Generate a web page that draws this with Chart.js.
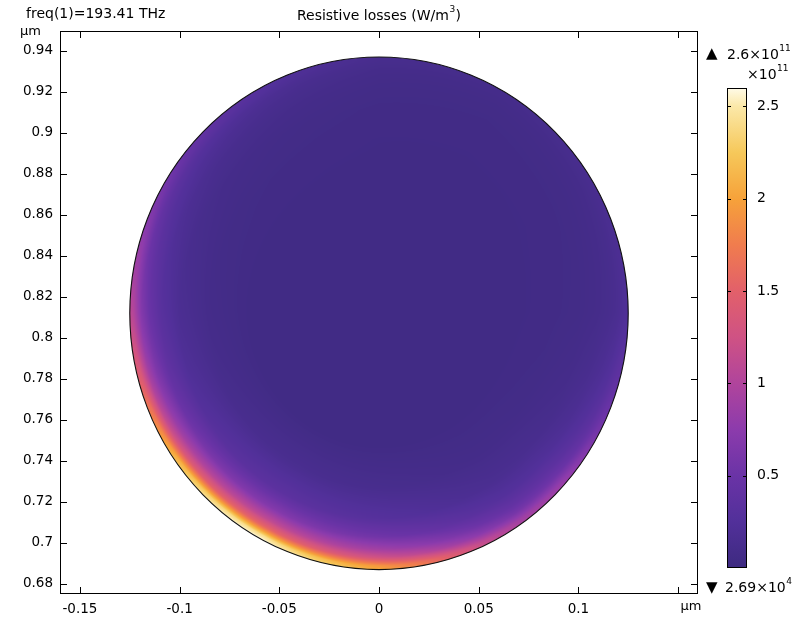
<!DOCTYPE html>
<html><head><meta charset="utf-8">
<script src="https://cdn.jsdelivr.net/npm/chart.js@4/dist/chart.umd.min.js"></script>
<style>
html,body{margin:0;padding:0;background:#fff;}
#wrap{position:relative;width:793px;height:618px;overflow:hidden;}
</style></head><body>
<div id="wrap">
<canvas id="main" width="793" height="618" style="position:absolute;left:0;top:0;"></canvas>
<canvas id="cbar" width="93" height="618" style="position:absolute;left:700px;top:0;"></canvas>
</div>
<script>
// ---- data ----
const xTicks = [-0.15, -0.1, -0.05, 0, 0.05, 0.1, 0.15];
const xTickLabels = ['-0.15', '-0.1', '-0.05', '0', '0.05', '0.1', ''];
const yTicks = [0.68, 0.7, 0.72, 0.74, 0.76, 0.78, 0.8, 0.82, 0.84, 0.86, 0.88, 0.9, 0.92, 0.94];
const yTickLabels = ['0.68', '0.7', '0.72', '0.74', '0.76', '0.78', '0.8', '0.82', '0.84', '0.86', '0.88', '0.9', '0.92', '0.94'];
const colorbarTicks = [0.5, 1, 1.5, 2, 2.5];
const circleCenter = [0, 0.812];      // µm
const circleRadius = 0.125;           // µm
// value at the circle boundary (×1e11 W/m³) by polar angle (deg)
const rimAngles = [0, 30, 60, 90, 110, 125, 140, 155, 170, 180, 195, 208, 215, 222, 232, 242, 252, 262, 270, 280, 287, 295, 305, 318, 332, 345, 360];
const rimValues = [0.22, 0.14, 0.1, 0.13, 0.22, 0.32, 0.45, 0.65, 0.92, 1.1, 1.5, 1.95, 2.2, 2.38, 2.55, 2.6, 2.42, 2.22, 2.05, 1.78, 1.5, 1.2, 0.95, 0.85, 0.6, 0.4, 0.22];
// fraction of boundary excess remaining at depth below the boundary (µm)
const depthSteps = [0, 0.002, 0.004, 0.006, 0.01, 0.016, 0.025, 0.04, 0.06];
const depthFraction = [1, 0.93, 0.76, 0.6, 0.42, 0.25, 0.12, 0.04, 0];
const interiorValue = 0.05;
const rangeMax = 2.6;
// colour map (value ×1e11 -> colour)
const colorValues = [0, 0.25, 0.5, 0.75, 1.0, 1.25, 1.5, 1.75, 2.0, 2.25, 2.5, 2.6];
const colorHex = ['#3d2a80', '#52309a', '#6a33a6', '#8c3bac', '#b0449c', '#cf5284', '#e2606a', '#f07c4e', '#f6a23a', '#f6c85a', '#fbe8a8', '#fffbe8'];

// ---- helpers ----
const FONT = '"DejaVu Sans", "Liberation Sans", sans-serif';
Chart.defaults.font.family = FONT;
function interp(xs, ys, v) {
  if (v <= xs[0]) return ys[0];
  for (let i = 1; i < xs.length; i++) {
    if (v <= xs[i]) { const t = (v - xs[i-1]) / (xs[i] - xs[i-1]); return ys[i-1] + t * (ys[i] - ys[i-1]); }
  }
  return ys[ys.length - 1];
}
const colorRGB = colorHex.map(h => [parseInt(h.slice(1,3),16), parseInt(h.slice(3,5),16), parseInt(h.slice(5,7),16)]);
function colorAt(v) {
  return [0,1,2].map(c => Math.round(interp(colorValues, colorRGB.map(rgb => rgb[c]), v)));
}
function drawSup(ctx, base, sup, x, y, size) {
  ctx.font = size + 'px ' + FONT;
  ctx.textBaseline = 'middle';
  ctx.textAlign = 'left';
  ctx.fillText(base, x, y);
  const w = ctx.measureText(base).width;
  ctx.font = Math.round(size * 0.65) + 'px ' + FONT;
  ctx.fillText(sup, x + w + 0.5, y - size * 0.42);
}

// ---- main plot ----
const fieldPlugin = {
  id: 'field',
  beforeDatasetsDraw(chart) {
    const { ctx, scales: { x, y } } = chart;
    const dpr = chart.currentDevicePixelRatio || 1;
    const cxp = x.getPixelForValue(circleCenter[0]), cyp = y.getPixelForValue(circleCenter[1]);
    const rx = Math.abs(x.getPixelForValue(circleCenter[0] + circleRadius) - cxp);
    const ry = Math.abs(y.getPixelForValue(circleCenter[1] + circleRadius) - cyp);
    const x0 = Math.floor(cxp - rx - 2), x1 = Math.ceil(cxp + rx + 2);
    const y0 = Math.floor(cyp - ry - 2), y1 = Math.ceil(cyp + ry + 2);
    const W = Math.round((x1 - x0) * dpr), H = Math.round((y1 - y0) * dpr);
    const off = document.createElement('canvas'); off.width = W; off.height = H;
    const octx = off.getContext('2d');
    const img = octx.createImageData(W, H);
    const pxPerUnit = rx / circleRadius * dpr;
    for (let j = 0; j < H; j++) {
      const vy = y.getValueForPixel(y0 + (j + 0.5) / dpr) - circleCenter[1];
      for (let i = 0; i < W; i++) {
        const vx = x.getValueForPixel(x0 + (i + 0.5) / dpr) - circleCenter[0];
        const r = Math.hypot(vx, vy);
        const depth = circleRadius - r;
        const cov = Math.min(1, Math.max(0, depth * pxPerUnit + 0.5));
        if (cov <= 0) continue;
        let ang = Math.atan2(vy, vx) * 180 / Math.PI; if (ang < 0) ang += 360;
        const rim = interp(rimAngles, rimValues, ang);
        const f = interp(depthSteps, depthFraction, Math.max(0, depth));
        const v = interiorValue + (rim - interiorValue) * f;
        const c = colorAt(v);
        const k = (j * W + i) * 4;
        img.data[k] = c[0]; img.data[k+1] = c[1]; img.data[k+2] = c[2]; img.data[k+3] = Math.round(cov * 255);
      }
    }
    octx.putImageData(img, 0, 0);
    ctx.save();
    ctx.drawImage(off, x0, y0, x1 - x0, y1 - y0);
    ctx.beginPath();
    ctx.ellipse(cxp, cyp, rx, ry, 0, 0, Math.PI * 2);
    ctx.lineWidth = 1.1; ctx.strokeStyle = '#111';
    ctx.stroke();
    ctx.restore();
  }
};
const framePlugin = {
  id: 'frame',
  afterDraw(chart) {
    const { ctx, chartArea: a, scales: { x, y } } = chart;
    ctx.save();
    ctx.strokeStyle = '#000'; ctx.lineWidth = 1;
    ctx.strokeRect(a.left + 0.5, a.top + 0.5, a.right - a.left - 1, a.bottom - a.top - 1);
    ctx.beginPath();
    const L = 7;
    xTicks.forEach(v => {
      const p = Math.round(x.getPixelForValue(v)) + 0.5;
      ctx.moveTo(p, a.bottom); ctx.lineTo(p, a.bottom - L);
      ctx.moveTo(p, a.top); ctx.lineTo(p, a.top + L);
    });
    yTicks.forEach(v => {
      const p = Math.round(y.getPixelForValue(v)) + 0.5;
      ctx.moveTo(a.left, p); ctx.lineTo(a.left + L, p);
      ctx.moveTo(a.right, p); ctx.lineTo(a.right - L, p);
    });
    ctx.stroke();
    ctx.fillStyle = '#000';
    ctx.textBaseline = 'middle';
    ctx.font = '14px ' + FONT;
    ctx.textAlign = 'left';
    ctx.fillText('freq(1)=193.41 THz', 26, 14);
    // centred title with superscript
    const t1 = 'Resistive losses (W/m', t2 = ')';
    ctx.font = '14px ' + FONT;
    const w1 = ctx.measureText(t1).width, w2 = ctx.measureText(t2).width;
    ctx.font = '9px ' + FONT;
    const ws = ctx.measureText('3').width;
    const cx = (a.left + a.right) / 2;
    let sx = cx - (w1 + ws + w2 + 1) / 2;
    ctx.font = '14px ' + FONT;
    ctx.fillText(t1, sx, 16);
    ctx.font = '9px ' + FONT;
    ctx.fillText('3', sx + w1 + 0.5, 10);
    ctx.font = '14px ' + FONT;
    ctx.fillText(t2, sx + w1 + ws + 1, 16);
    ctx.font = '13px ' + FONT;
    ctx.fillText('µm', 20, 32);
    ctx.textAlign = 'center';
    ctx.fillText('µm', 691, 607);
    ctx.restore();
  }
};

new Chart(document.getElementById('main'), {
  type: 'scatter',
  data: { datasets: [] },
  options: {
    responsive: false, animation: false,
    layout: { padding: { top: 31, right: 95, left: 0, bottom: 0 } },
    plugins: { legend: { display: false }, tooltip: { enabled: false } },
    scales: {
      x: {
        type: 'linear', position: 'bottom', min: -0.16, max: 0.16,
        grid: { display: false, drawTicks: false }, border: { display: false },
        afterBuildTicks: s => { s.ticks = xTicks.map(v => ({ value: v })); },
        afterFit: s => { s.height = 24; },
        ticks: { color: '#000', font: { size: 13.5 }, padding: 7, maxRotation: 0, minRotation: 0, autoSkip: false,
                 callback: (v, i) => xTickLabels[i] }
      },
      y: {
        type: 'linear', position: 'left', min: 0.6751, max: 0.9497,
        grid: { display: false, drawTicks: false }, border: { display: false },
        afterBuildTicks: s => { s.ticks = yTicks.map(v => ({ value: v })); },
        afterFit: s => { s.width = 60; },
        ticks: { color: '#000', font: { size: 13.5 }, padding: 7, autoSkip: false,
                 callback: (v, i) => yTickLabels[i] }
      }
    }
  },
  plugins: [fieldPlugin, framePlugin]
});

// ---- colour bar ----
const cbarPlugin = {
  id: 'cbarDraw',
  beforeDatasetsDraw(chart) {
    const { ctx, chartArea: a, scales: { y } } = chart;
    ctx.save();
    const g = ctx.createLinearGradient(0, y.getPixelForValue(0), 0, y.getPixelForValue(rangeMax));
    colorValues.forEach((v, i) => g.addColorStop(v / rangeMax, colorHex[i]));
    ctx.fillStyle = g;
    ctx.fillRect(a.left, a.top, a.right - a.left, a.bottom - a.top);
    ctx.strokeStyle = '#000'; ctx.lineWidth = 1;
    ctx.strokeRect(a.left + 0.5, a.top + 0.5, a.right - a.left - 1, a.bottom - a.top - 1);
    ctx.beginPath();
    colorbarTicks.forEach(v => {
      const p = Math.round(y.getPixelForValue(v)) + 0.5;
      ctx.moveTo(a.left, p); ctx.lineTo(a.left + 4, p);
      ctx.moveTo(a.right, p); ctx.lineTo(a.right - 4, p);
    });
    ctx.stroke();
    ctx.fillStyle = '#000';
    ctx.font = '15px ' + FONT; ctx.textBaseline = 'middle'; ctx.textAlign = 'left';
    ctx.fillText('▲', 6, 54);
    drawSup(ctx, '2.6×10', '11', 27, 55, 14);
    drawSup(ctx, '×10', '11', 47, 75, 14);
    ctx.font = '15px ' + FONT; ctx.textBaseline = 'middle'; ctx.textAlign = 'left';
    ctx.fillText('▼', 6, 588);
    drawSup(ctx, '2.69×10', '4', 25, 588, 14);
    ctx.restore();
  }
};
new Chart(document.getElementById('cbar'), {
  type: 'scatter',
  data: { datasets: [] },
  options: {
    responsive: false, animation: false,
    layout: { padding: { top: 88, right: 0, left: 27, bottom: 50 } },
    plugins: { legend: { display: false }, tooltip: { enabled: false } },
    scales: {
      x: { type: 'linear', display: false, min: 0, max: 1 },
      y: {
        type: 'linear', position: 'right', min: 0, max: rangeMax,
        grid: { display: false, drawTicks: false }, border: { display: false },
        afterBuildTicks: s => { s.ticks = colorbarTicks.map(v => ({ value: v })); },
        afterFit: s => { s.width = 46; },
        ticks: { color: '#000', font: { size: 14 }, padding: 10, autoSkip: false, callback: v => String(v) }
      }
    }
  },
  plugins: [cbarPlugin]
});
</script>
</body></html>
